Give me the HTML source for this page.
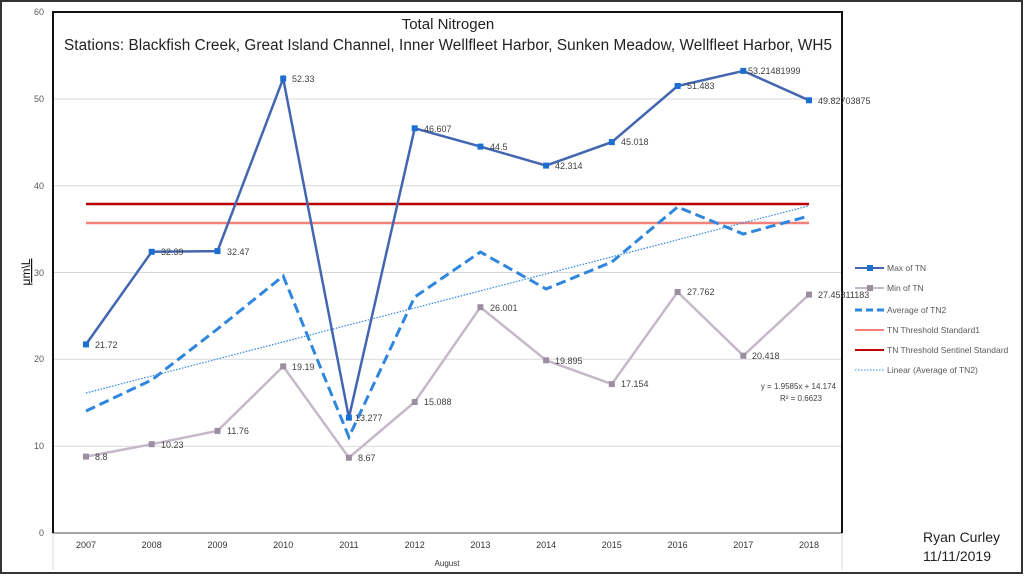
<!DOCTYPE html>
<html><head><meta charset="utf-8"><style>
body{margin:0;background:#fff}
svg{display:block;font-family:"Liberation Sans",sans-serif}
</style></head><body>
<svg width="1024" height="576" viewBox="0 0 1024 576">
<rect x="0" y="0" width="1024" height="576" fill="#fff"/>
<rect x="1" y="1" width="1021" height="572" fill="none" stroke="#333" stroke-width="2"/>
<g stroke="#d9d9d9" stroke-width="1">
<line x1="53" x2="842" y1="446.2" y2="446.2"/><line x1="53" x2="842" y1="359.3" y2="359.3"/>
<line x1="53" x2="842" y1="272.5" y2="272.5"/><line x1="53" x2="842" y1="185.8" y2="185.8"/>
<line x1="53" x2="842" y1="99" y2="99"/>
<line x1="53" x2="53" y1="533" y2="570"/><line x1="842" x2="842" y1="533" y2="570"/>
</g>
<line x1="53" x2="842" y1="533" y2="533" stroke="#888" stroke-width="1.5"/>
<polyline points="53,533 53,12 842,12 842,533" fill="none" stroke="#111" stroke-width="2"/>
<g font-size="9" fill="#595959" text-anchor="end">
<text x="44" y="536">0</text><text x="44" y="449">10</text><text x="44" y="362">20</text>
<text x="44" y="276">30</text><text x="44" y="189">40</text><text x="44" y="102">50</text><text x="44" y="15">60</text>
</g>
<g font-size="9" fill="#333" text-anchor="middle">
<text x="86" y="548">2007</text><text x="151.7" y="548">2008</text><text x="217.5" y="548">2009</text>
<text x="283.2" y="548">2010</text><text x="348.9" y="548">2011</text><text x="414.7" y="548">2012</text>
<text x="480.4" y="548">2013</text><text x="546.1" y="548">2014</text><text x="611.8" y="548">2015</text>
<text x="677.6" y="548">2016</text><text x="743.3" y="548">2017</text><text x="809" y="548">2018</text>
<text x="447" y="566" font-size="8">August</text>
</g>
<text transform="translate(30,272) rotate(-90)" font-size="12" text-anchor="middle" fill="#111" text-decoration="underline">μm\L</text>
<text x="448" y="29" font-size="15" text-anchor="middle" fill="#222">Total Nitrogen</text>
<text x="448" y="50" font-size="15.3" text-anchor="middle" fill="#222" textLength="768">Stations: Blackfish Creek, Great Island Channel, Inner Wellfleet Harbor, Sunken Meadow, Wellfleet Harbor, WH5</text>
<line x1="86" x2="809" y1="223" y2="223" stroke="#f4817a" stroke-width="2.5"/>
<line x1="86" x2="809" y1="204" y2="204" stroke="#c00000" stroke-width="2.5"/>
<line x1="86" y1="393" x2="809" y2="205.8" stroke="#2e86de" stroke-width="1.2" stroke-dasharray="1.5,1.5"/>
<polyline fill="none" stroke="#2e86de" stroke-width="3" stroke-dasharray="10,5" points="86,411 151.7,380 217.5,329 283.2,276 348.9,437 414.7,297 480.4,252 546.1,289 611.8,262 677.6,207 743.3,234 809,216"/>
<polyline fill="none" stroke="#c5b8c8" stroke-width="2.5" points="86,456.6 151.7,444.2 217.5,430.9 283.2,366.4 348.9,457.7 414.7,402 480.4,307.2 546.1,360.3 611.8,384.1 677.6,292 743.3,355.7 809,294.6"/>
<g fill="#9a8ea0">
<rect x="83" y="453.6" width="6" height="6"/><rect x="148.7" y="441.2" width="6" height="6"/><rect x="214.5" y="427.9" width="6" height="6"/>
<rect x="280.2" y="363.4" width="6" height="6"/><rect x="345.9" y="454.7" width="6" height="6"/><rect x="411.7" y="399" width="6" height="6"/>
<rect x="477.4" y="304.2" width="6" height="6"/><rect x="543.1" y="357.3" width="6" height="6"/><rect x="608.8" y="381.1" width="6" height="6"/>
<rect x="674.6" y="289" width="6" height="6"/><rect x="740.3" y="352.7" width="6" height="6"/><rect x="806" y="291.6" width="6" height="6"/>
</g>
<polyline fill="none" stroke="#4466b0" stroke-width="2.5" points="86,344.4 151.7,251.8 217.5,251.1 283.2,78.6 348.9,417.7 414.7,128.3 480.4,146.6 546.1,165.6 611.8,142.1 677.6,86 743.3,70.9 809,100.3"/>
<g fill="#1a6fd1">
<rect x="83" y="341.4" width="6" height="6"/><rect x="148.7" y="248.8" width="6" height="6"/><rect x="214.5" y="248.1" width="6" height="6"/>
<rect x="280.2" y="75.6" width="6" height="6"/><rect x="345.9" y="414.7" width="6" height="6"/><rect x="411.7" y="125.3" width="6" height="6"/>
<rect x="477.4" y="143.6" width="6" height="6"/><rect x="543.1" y="162.6" width="6" height="6"/><rect x="608.8" y="139.1" width="6" height="6"/>
<rect x="674.6" y="83" width="6" height="6"/><rect x="740.3" y="67.9" width="6" height="6"/><rect x="806" y="97.3" width="6" height="6"/>
</g>
<g font-size="9" fill="#404040">
<text x="95" y="348">21.72</text><text x="161" y="255">32.39</text><text x="227" y="255">32.47</text>
<text x="292" y="82">52.33</text><text x="355" y="421">13.277</text><text x="424" y="132">46.607</text>
<text x="490" y="150">44.5</text><text x="555" y="169">42.314</text><text x="621" y="145">45.018</text>
<text x="687" y="89">51.483</text><text x="748" y="74">53.21481999</text><text x="818" y="104">49.82703875</text>
<text x="95" y="460">8.8</text><text x="161" y="448">10.23</text><text x="227" y="434">11.76</text>
<text x="292" y="370">19.19</text><text x="358" y="461">8.67</text><text x="424" y="405">15.088</text>
<text x="490" y="311">26.001</text><text x="555" y="364">19.895</text><text x="621" y="387">17.154</text>
<text x="687" y="295">27.762</text><text x="752" y="359">20.418</text><text x="818" y="298">27.45811183</text>
</g>
<g font-size="8" fill="#404040" text-anchor="end">
<text x="836" y="389">y = 1.9585x + 14.174</text><text x="822" y="401">R² = 0.6623</text>
</g>
<g font-size="8.5" fill="#595959">
<line x1="855" x2="884" y1="268" y2="268" stroke="#4466b0" stroke-width="2"/><rect x="867" y="265" width="6" height="6" fill="#1a6fd1"/><text x="887" y="271">Max of TN</text>
<line x1="855" x2="884" y1="288" y2="288" stroke="#c5b8c8" stroke-width="2"/><rect x="867" y="285" width="6" height="6" fill="#9a8ea0"/><text x="887" y="291">Min of TN</text>
<line x1="855" x2="884" y1="310" y2="310" stroke="#2e86de" stroke-width="3" stroke-dasharray="7,4"/><text x="887" y="313">Average of TN2</text>
<line x1="855" x2="884" y1="330" y2="330" stroke="#f4817a" stroke-width="2"/><text x="887" y="333">TN Threshold Standard1</text>
<line x1="855" x2="884" y1="350" y2="350" stroke="#c00000" stroke-width="2"/><text x="887" y="353">TN Threshold Sentinel Standard</text>
<line x1="855" x2="884" y1="370" y2="370" stroke="#2e86de" stroke-width="1" stroke-dasharray="1.5,1.5"/><text x="887" y="373">Linear (Average of TN2)</text>
</g>
<g font-size="14" fill="#222">
<text x="923" y="542">Ryan Curley</text><text x="923" y="561">11/11/2019</text>
</g>
</svg>
</body></html>
